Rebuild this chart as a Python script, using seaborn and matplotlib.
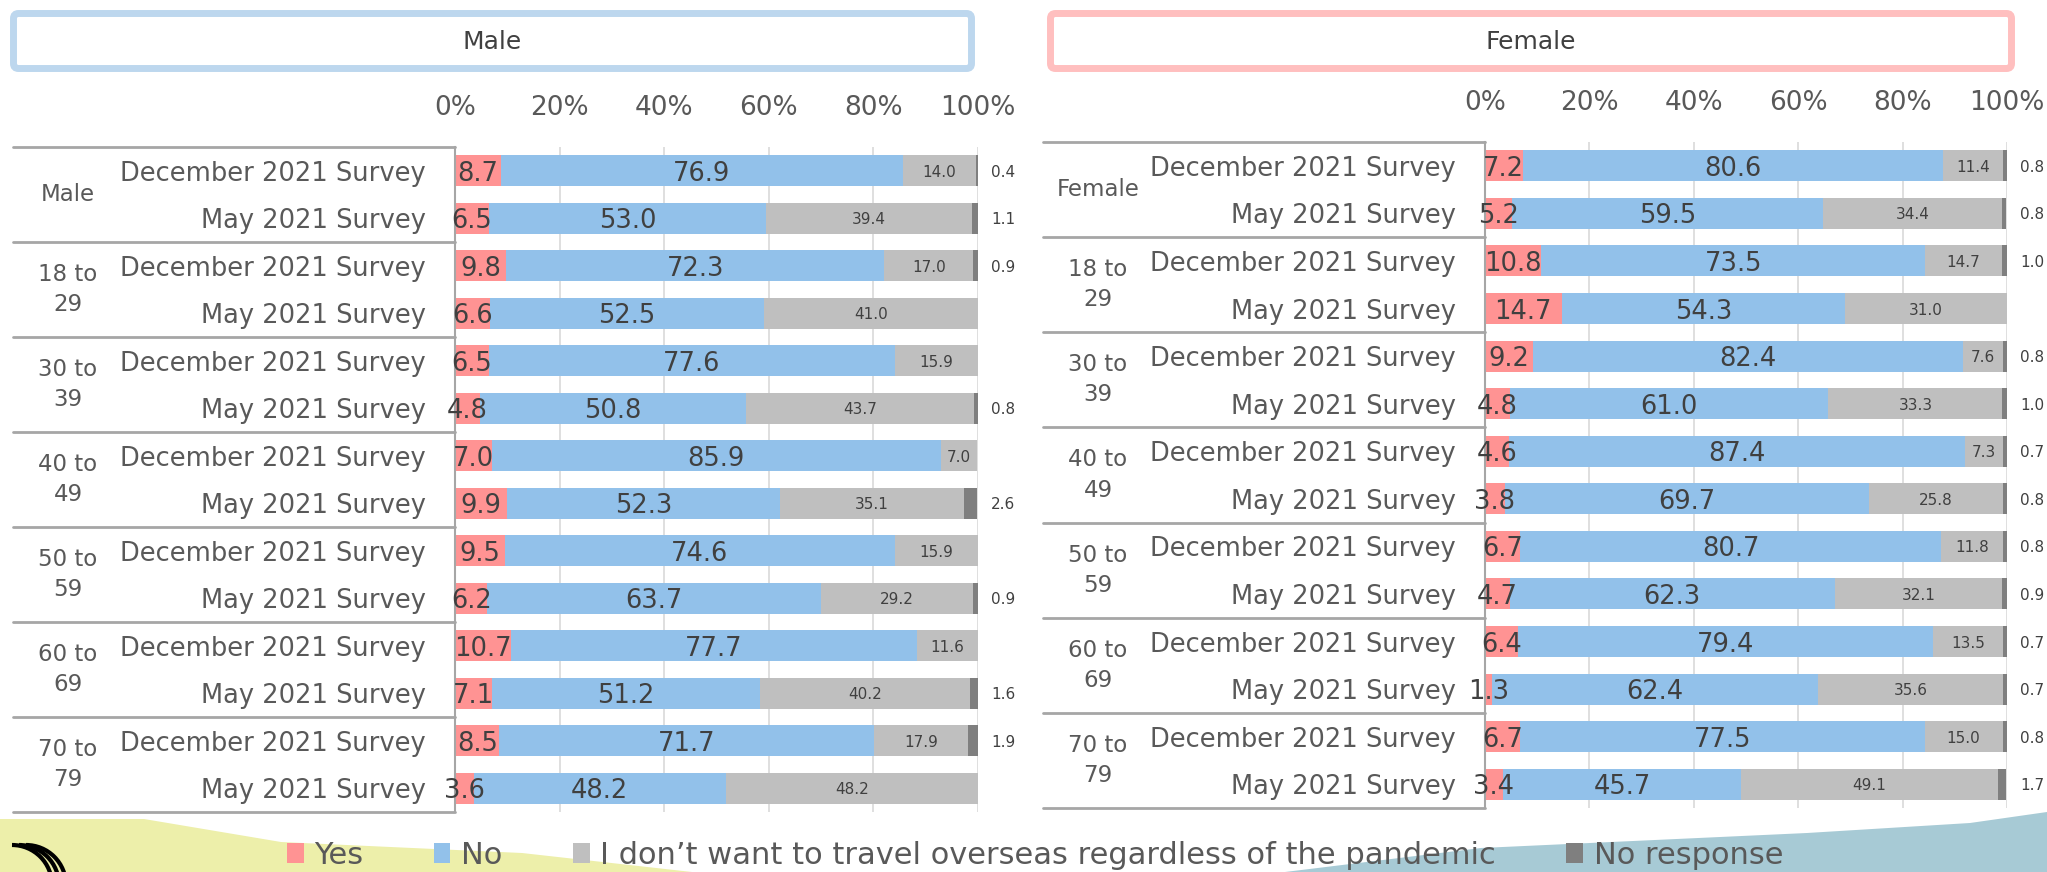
import matplotlib
matplotlib.use("Agg")
import matplotlib.pyplot as plt
from matplotlib.patches import Patch, FancyBboxPatch, Polygon, Arc
from matplotlib.lines import Line2D
from matplotlib.transforms import IdentityTransform, blended_transform_factory
import seaborn as sns
import pandas as pd
import numpy as np

# --- data (% of respondents) ---
male_groups = ["Male", "18 to\n29", "30 to\n39", "40 to\n49", "50 to\n59", "60 to\n69", "70 to\n79"]
female_groups = ["Female", "18 to\n29", "30 to\n39", "40 to\n49", "50 to\n59", "60 to\n69", "70 to\n79"]
surveys = ["December 2021 Survey", "May 2021 Survey"]
series = ["Yes", "No", "I don\u2019t want to travel overseas regardless of the pandemic", "No response"]

male_yes = [8.7, 6.5, 9.8, 6.6, 6.5, 4.8, 7.0, 9.9, 9.5, 6.2, 10.7, 7.1, 8.5, 3.6]
male_no = [76.9, 53.0, 72.3, 52.5, 77.6, 50.8, 85.9, 52.3, 74.6, 63.7, 77.7, 51.2, 71.7, 48.2]
male_dont = [14.0, 39.4, 17.0, 41.0, 15.9, 43.7, 7.0, 35.1, 15.9, 29.2, 11.6, 40.2, 17.9, 48.2]
male_nr = [0.4, 1.1, 0.9, 0, 0, 0.8, 0, 2.6, 0, 0.9, 0, 1.6, 1.9, 0]

female_yes = [7.2, 5.2, 10.8, 14.7, 9.2, 4.8, 4.6, 3.8, 6.7, 4.7, 6.4, 1.3, 6.7, 3.4]
female_no = [80.6, 59.5, 73.5, 54.3, 82.4, 61.0, 87.4, 69.7, 80.7, 62.3, 79.4, 62.4, 77.5, 45.7]
female_dont = [11.4, 34.4, 14.7, 31.0, 7.6, 33.3, 7.3, 25.8, 11.8, 32.1, 13.5, 35.6, 15.0, 49.1]
female_nr = [0.8, 0.8, 1.0, 0, 0.8, 1.0, 0.7, 0.8, 0.8, 0.9, 0.7, 0.7, 0.8, 1.7]

colors = ["#FF9393", "#92C1EA", "#BFBFBF", "#7F7F7F"]
TXT = "#595959"
LBL = "#404040"
LINE = "#A6A6A6"

W, H = 2047, 872

sns.set_style("white")
plt.rcParams["font.family"] = ["DejaVu Sans"]

fig = plt.figure(figsize=(W / 100, H / 100), dpi=100)


def fx(px):
    return px / W


def fy(py):
    # py measured from top of image
    return (H - py) / H


# decorative background shapes
yellow = Polygon([(0, H - 819), (144, H - 819), (281, H - 842), (522, H - 853), (692, 0), (0, 0)],
                 closed=True, transform=IdentityTransform(), facecolor="#EDEFAA", edgecolor="none", zorder=-2)
fig.add_artist(yellow)
teal = Polygon([(1285, 0), (1481, H - 848), (1807, H - 833), (1970, H - 823), (2047, H - 812), (2047, 0)],
               closed=True, transform=IdentityTransform(), facecolor="#A7CAD5", edgecolor="none", zorder=-2)
fig.add_artist(teal)
for cx in [12, 19, 26]:
    fig.add_artist(Arc((cx, H - 885), 80, 80, theta1=0, theta2=90, transform=IdentityTransform(),
                       color="black", lw=3, zorder=-1))


def draw_header(x0, x1, text, edge):
    box = FancyBboxPatch((x0, H - 68.5), x1 - x0, 55, boxstyle="round,pad=0,rounding_size=5",
                         transform=IdentityTransform(), facecolor="white", edgecolor=edge, lw=5, zorder=1)
    fig.add_artist(box)
    fig.text(fx((x0 + x1) / 2), fy(42), text, ha="center", va="center", fontsize=18, color=LBL)


draw_header(13.5, 971.5, "Male", "#BDD7EE")
draw_header(1050.5, 2011.5, "Female", "#FFBFBF")


def draw_panel(ax, groups, yes, no, dont, nr, table_left_px):
    n = len(yes)
    row_ids = [f"r{i}" for i in range(n)]
    df = pd.DataFrame({"row": row_ids, "yes": yes, "no": no, "dont": dont, "nr": nr})
    df["c1"] = df["yes"]
    df["c2"] = df["c1"] + df["no"]
    df["c3"] = df["c2"] + df["dont"]
    df["c4"] = df["c3"] + df["nr"]

    # stacked bars drawn as overlaid cumulative totals
    for col, color in [("c4", colors[3]), ("c3", colors[2]), ("c2", colors[1]), ("c1", colors[0])]:
        sns.barplot(data=df, x=col, y="row", order=row_ids, color=color, width=0.65,
                    saturation=1, errorbar=None, ax=ax, linewidth=0)

    for i, r in df.iterrows():
        ax.text(r["yes"] / 2, i, f"{r['yes']:.1f}", ha="center", va="center_baseline",
                fontsize=18.5, color=LBL)
        ax.text(r["c1"] + r["no"] / 2, i, f"{r['no']:.1f}", ha="center", va="center_baseline",
                fontsize=18.5, color=LBL)
        ax.text(r["c2"] + r["dont"] / 2, i, f"{r['dont']:.1f}", ha="center", va="center_baseline",
                fontsize=11, color=LBL)
        if r["nr"] > 0:
            ax.text(102.5, i, f"{r['nr']:.1f}", ha="left", va="center_baseline",
                    fontsize=11, color=LBL, clip_on=False)

    ax.set_xlim(0, 100)
    ax.set_ylim(n - 0.5, -0.5)
    ax.set_facecolor("none")
    ax.xaxis.tick_top()
    ax.set_xticks(np.arange(0, 101, 20))
    ax.set_xticklabels([f"{v}%" for v in range(0, 101, 20)])
    ax.tick_params(axis="x", length=0, pad=19, labelsize=19, labelcolor=TXT)
    ax.set_yticks(range(n))
    ax.set_yticklabels(surveys * (n // 2))
    ax.tick_params(axis="y", length=0, pad=21, labelsize=18.5, labelcolor=TXT)
    ax.set_xlabel("")
    ax.set_ylabel("")
    ax.grid(axis="x", color="#D9D9D9", lw=1.2)
    ax.set_axisbelow(True)
    for s in ["top", "right", "bottom"]:
        ax.spines[s].set_visible(False)
    ax.spines["left"].set_color(LINE)
    ax.spines["left"].set_linewidth(1.5)

    # table lines and group labels left of the bars
    trans = blended_transform_factory(fig.transFigure, ax.transData)
    ax_left = ax.get_position().x0
    for b in np.arange(-0.5, n, 2):
        ax.add_artist(Line2D([fx(table_left_px), ax_left], [b, b], transform=trans,
                             color=LINE, lw=2, clip_on=False))
    for g, label in enumerate(groups):
        ax.text(fx(table_left_px + 55), 2 * g + 0.5, label, transform=trans, ha="center",
                va="center", fontsize=16.5, color=TXT, linespacing=1.4)


ax_m = fig.add_axes([fx(455), fy(812), fx(523), 665 / H])
ax_f = fig.add_axes([fx(1485), fy(808), fx(522), 666 / H])

draw_panel(ax_m, male_groups, male_yes, male_no, male_dont, male_nr, 13)
draw_panel(ax_f, female_groups, female_yes, female_no, female_dont, female_nr, 1043)

handles = [Patch(facecolor=c, edgecolor="none") for c in colors]
fig.legend(handles, series, loc="center", bbox_to_anchor=(fx(1035), fy(855)), ncol=4,
           frameon=False, fontsize=22, handlelength=0.55, handleheight=0.65,
           handletextpad=0.35, columnspacing=2.3, labelcolor=TXT)

fig.savefig("out.png", dpi=100)
